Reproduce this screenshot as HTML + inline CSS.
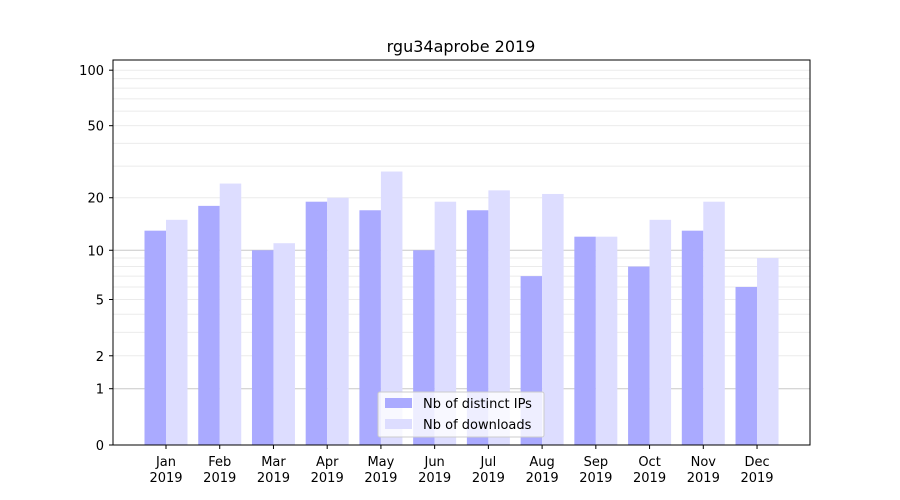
<!DOCTYPE html>
<html><head><meta charset="utf-8"><style>body{margin:0;background:#fff}svg{display:block;font-family:"DejaVu Sans","Liberation Sans",sans-serif}</style></head>
<body>
<svg width="900" height="500" viewBox="0 0 900 500" xmlns="http://www.w3.org/2000/svg">
<rect width="900" height="500" fill="#fff"/>
<g id="grid"></g>
<g id="bars"></g>
<rect x="113" y="60" width="697" height="385" fill="none" stroke="#000" stroke-width="1"/>
<g id="ticks" font-size="13" fill="#000"></g>
<text x="461" y="52" text-anchor="middle" font-size="16">rgu34aprobe 2019</text>
<g>
<rect x="378" y="392" width="166" height="45" fill="#fff" fill-opacity="0.8" stroke="#ccc" rx="2"/>
<rect x="385" y="398" width="27" height="10" fill="#aaaaff"/>
<text x="423" y="408" font-size="13">Nb of distinct IPs</text>
<rect x="385" y="419" width="27" height="10" fill="#ddddff"/>
<text x="423" y="429" font-size="13">Nb of downloads</text>
</g>
<script>
var Y=function(v){return 445-187*Math.log10(1+v)};
var ns="http://www.w3.org/2000/svg";
function el(p,t,a,tx){var e=document.createElementNS(ns,t);for(var k in a)e.setAttribute(k,a[k]);if(tx)e.textContent=tx;p.appendChild(e);return e}
var g=document.getElementById('grid');
[3,4,6,7,8,9,20,30,40,50,60,70,80,90,100,2,5].forEach(function(v){var y=Y(v);el(g,'line',{x1:113,x2:810,y1:y,y2:y,stroke:'#ebebeb','stroke-width':1})});
[1,10].forEach(function(v){var y=Y(v);el(g,'line',{x1:113,x2:810,y1:y,y2:y,stroke:'#c8c8c8','stroke-width':1})});
var ip=[13,18,10,19,17,10,17,7,12,8,13,6],dl=[15,24,11,20,28,19,22,21,12,15,19,9];
var m=['Jan','Feb','Mar','Apr','May','Jun','Jul','Aug','Sep','Oct','Nov','Dec'];
var b=document.getElementById('bars'),t=document.getElementById('ticks');
for(var i=0;i<12;i++){var c=166+i*53.73;
el(b,'rect',{x:c-21.5,y:Y(ip[i]),width:21.5,height:445-Y(ip[i]),fill:'#aaaaff'});
el(b,'rect',{x:c,y:Y(dl[i]),width:21.5,height:445-Y(dl[i]),fill:'#ddddff'});
el(t,'line',{x1:c,x2:c,y1:445,y2:449,stroke:'#000'});
el(t,'text',{x:c,y:466,'text-anchor':'middle'},m[i]);
el(t,'text',{x:c,y:482,'text-anchor':'middle'},'2019');}
[0,1,2,5,10,20,50,100].forEach(function(v){var y=Y(v);el(t,'line',{x1:109,x2:113,y1:y,y2:y,stroke:'#000'});el(t,'text',{x:104,y:y+5,'text-anchor':'end'},String(v))});
</script>
</svg>
</body></html>
